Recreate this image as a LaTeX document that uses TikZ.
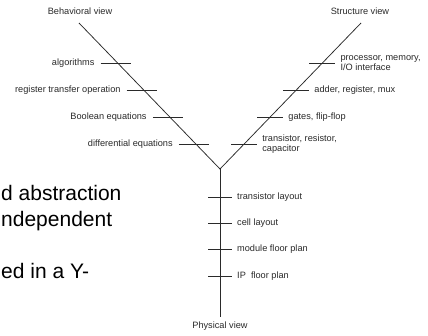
\documentclass[tikz,border=0pt]{standalone}
\usepackage{fontspec}
\setmainfont{Liberation Sans}
\usepackage{tikz}
\usetikzlibrary{calc,positioning}
\definecolor{ink}{HTML}{2A2A2A}
\definecolor{paper}{HTML}{FFFFFF}
\tikzset{
  axis/.style={draw=ink,line width=0.75pt},
  tick/.style={draw=ink,line width=0.85pt},
  lvl/.style={font=\fontsize{9.2}{10}\selectfont,text=ink,inner sep=0pt,align=left},
  viewname/.style={font=\fontsize{9.2}{10}\selectfont,text=ink,inner sep=0pt},
  slide/.style={font=\fontsize{21}{25}\selectfont,text=black,inner sep=0pt,anchor=base west}}

\begin{document}
\begin{tikzpicture}[x=1pt,y=-1pt]
\useasboundingbox[fill=paper] (0,0) rectangle (428,335);

% leftover slide text
\node[slide] (s1) at (1,200) {d abstraction};
\node[slide] (s2) at (1,226) {ndependent};
\node[slide] (s3) at (1,278) {ed in a Y-};

% the Y
\coordinate (apex) at (220,169);
\coordinate (btop) at (79,23);
\coordinate (stop) at (361,23);
\coordinate (pbot) at (220,317);
\draw[axis] (btop) -- (apex) -- (stop);
\draw[axis] (apex) -- (pbot);

\node[viewname] (beh) at (80,11) {Behavioral view};
\node[viewname] (str) at (360,11) {Structure view};
\node[viewname] (phy) at (220,326) {Physical view};

% behavioral levels
\foreach \t/\txt [count=\i] in {0.274/algorithms,0.459/register transfer operation,
    0.644/Boolean equations,0.829/differential equations}{
  \coordinate (b\i) at ($(btop)!\t!(apex)+(-2,0)$);
  \draw[tick] ($(b\i)+(-15,0)$) -- ($(b\i)+(15,0)$);
  \node[lvl,anchor=east] (bl\i) at ($(b\i)+(-21,0)$) {\txt};
}

% structural levels
\foreach \t/\txt [count=\i] in {0.274/{processor, memory,\\I/O interface},
    0.459/{adder, register, mux},0.644/{gates, flip-flop},
    0.829/{transistor, resistor,\\capacitor}}{
  \coordinate (r\i) at ($(stop)!\t!(apex)$);
  \draw[tick] ($(r\i)+(-13,0)$) -- ($(r\i)+(13,0)$);
  \node[lvl,anchor=west] (rl\i) at ($(r\i)+(18,0)$) {\txt};
}

% physical levels
\foreach \t/\txt [count=\i] in {0.189/transistor layout,0.365/cell layout,
    0.541/module floor plan,0.723/{IP~ floor plan}}{
  \coordinate (p\i) at ($(apex)!\t!(pbot)$);
  \draw[tick] ($(p\i)+(-12,0)$) -- ($(p\i)+(12,0)$);
  \node[lvl,anchor=west] (pl\i) at ($(p\i)+(17,0)$) {\txt};
}
\end{tikzpicture}
\end{document}
